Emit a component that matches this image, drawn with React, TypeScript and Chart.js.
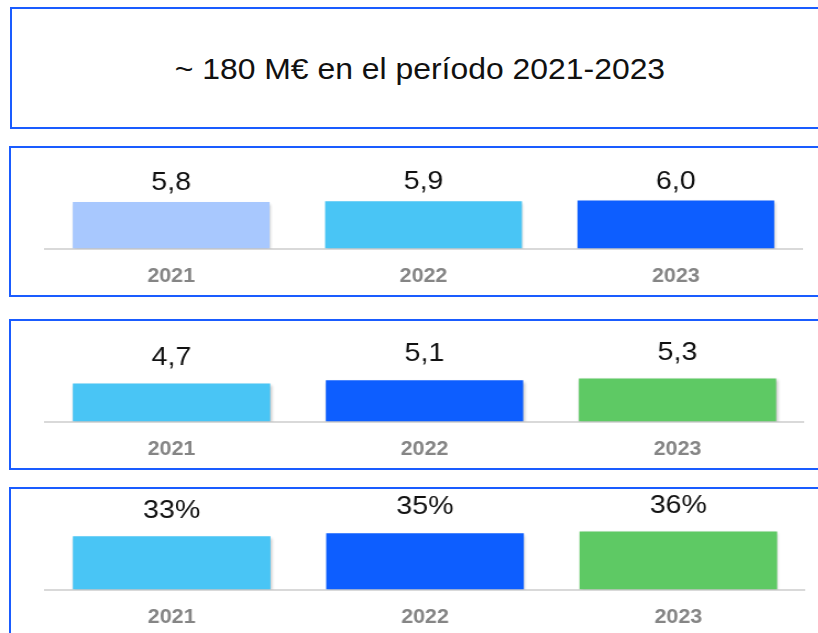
import React, { useEffect, useRef } from "react";
import { Chart, registerables } from "chart.js";

Chart.register(...registerables);

// ---- data ----
const categories = ["2021", "2022", "2023"];
const panel1Values = [5.8, 5.9, 6.0];
const panel2Values = [4.7, 5.1, 5.3];
const panel3Values = [33, 35, 36];
const titleText = "~ 180 M€ en el período 2021-2023";

// ---- styles ----
const FONT = "'Liberation Sans', Arial, Helvetica, sans-serif";
const S = 1.1; // horizontal stretch of the reference
const INNER_W = 744;
const BORDER = "#1a5cff";
const LIGHT = "#a8c8fe";
const CYAN = "#49c5f5";
const BLUE = "#0d5eff";
const GREEN = "#5ec964";

const panel1Colors = [LIGHT, CYAN, BLUE];
const panel2Colors = [CYAN, BLUE, GREEN];
const panel3Colors = [CYAN, BLUE, GREEN];

const fmtDecimal = (v: number) => v.toFixed(1).replace(".", ",");
const fmtPercent = (v: number) => `${v}%`;

const shadowPlugin = {
  id: "barShadow",
  beforeDatasetDraw(chart: any) {
    const c = chart.ctx;
    c.save();
    c.shadowColor = "rgba(0,0,0,0.25)";
    c.shadowBlur = 3;
    c.shadowOffsetX = 1;
    c.shadowOffsetY = 1.5;
  },
  afterDatasetDraw(chart: any) {
    chart.ctx.restore();
  },
};

function makeLabelPlugin(format: (v: number) => string, offset: number) {
  return {
    id: "valueLabels",
    afterDatasetsDraw(chart: any) {
      const ctx = chart.ctx;
      const meta = chart.getDatasetMeta(0);
      const data = chart.data.datasets[0].data as number[];
      ctx.save();
      ctx.font = `26px ${FONT}`;
      ctx.fillStyle = "#111";
      ctx.textAlign = "center";
      ctx.textBaseline = "middle";
      meta.data.forEach((bar: any, i: number) => {
        ctx.fillText(format(data[i]), bar.x, bar.y - offset);
      });
      ctx.restore();
    },
  };
}

type PanelProps = {
  values: number[];
  colors: string[];
  format: (v: number) => string;
  top: number;
  yMax: number;
  labelOffset: number;
  rightEdge: number;
};

function BarPanel({ values, colors, format, top, yMax, labelOffset, rightEdge }: PanelProps) {
  const ref = useRef<HTMLCanvasElement | null>(null);
  useEffect(() => {
    if (!ref.current) return;
    const chart = new Chart(ref.current, {
      type: "bar",
      data: {
        labels: categories,
        datasets: [
          {
            data: values,
            backgroundColor: colors,
            borderWidth: 0,
            categoryPercentage: 1,
            barPercentage: 0.78,
          },
        ],
      },
      options: {
        animation: false,
        responsive: true,
        maintainAspectRatio: false,
        devicePixelRatio: 1,
        layout: {
          padding: { left: 45 / S, right: INNER_W - rightEdge / S, top: 0, bottom: 0 },
        },
        plugins: {
          legend: { display: false },
          tooltip: { enabled: false },
        },
        scales: {
          x: {
            grid: { display: false, drawTicks: false },
            border: { display: true, color: "#d9d9d9", width: 2 },
            ticks: {
              color: "#858585",
              font: { family: FONT, size: 19.5, weight: "bold" },
              padding: 16.5,
            },
            afterFit: (s: any) => {
              s.height = 46.5;
            },
          },
          y: { display: false, min: 0, max: yMax },
        },
      } as any,
      plugins: [shadowPlugin, makeLabelPlugin(format, labelOffset)],
    });
    return () => chart.destroy();
  }, []);

  return (
    <>
      <div
        style={{
          position: "absolute",
          left: 9,
          top,
          width: 840,
          height: 151,
          boxSizing: "border-box",
          border: `2px solid ${BORDER}`,
        }}
      />
      <div
        style={{
          position: "absolute",
          left: 0,
          top: top + 2,
          width: INNER_W,
          height: 147,
          transform: `scaleX(${S})`,
          transformOrigin: "0 0",
        }}
      >
        <canvas ref={ref} />
      </div>
    </>
  );
}

export default function App() {
  return (
    <div
      style={{
        position: "absolute",
        left: 0,
        top: 0,
        width: 818,
        height: 633,
        overflow: "hidden",
        background: "#fff",
      }}
    >
      <div
        style={{
          position: "absolute",
          left: 10,
          top: 7,
          width: 840,
          height: 122,
          boxSizing: "border-box",
          border: `2px solid ${BORDER}`,
        }}
      />
      <div
        style={{
          position: "absolute",
          left: 0,
          top: 7,
          width: 840,
          height: 122,
          display: "flex",
          alignItems: "center",
          justifyContent: "center",
          paddingTop: 3,
          boxSizing: "border-box",
        }}
      >
        <span
          style={{
            display: "inline-block",
            fontFamily: FONT,
            fontSize: 29,
            color: "#111",
            whiteSpace: "nowrap",
            transform: `scaleX(${S})`,
          }}
        >
          {titleText}
        </span>
      </div>
      <BarPanel
        values={panel1Values}
        colors={panel1Colors}
        format={fmtDecimal}
        top={146}
        yMax={12.56}
        labelOffset={19}
        rightEdge={802}
      />
      <BarPanel
        values={panel2Values}
        colors={panel2Colors}
        format={fmtDecimal}
        top={319}
        yMax={12.4}
        labelOffset={26}
        rightEdge={804}
      />
      <BarPanel
        values={panel3Values}
        colors={panel3Colors}
        format={fmtPercent}
        top={487}
        yMax={62.4}
        labelOffset={26}
        rightEdge={805}
      />
    </div>
  );
}
